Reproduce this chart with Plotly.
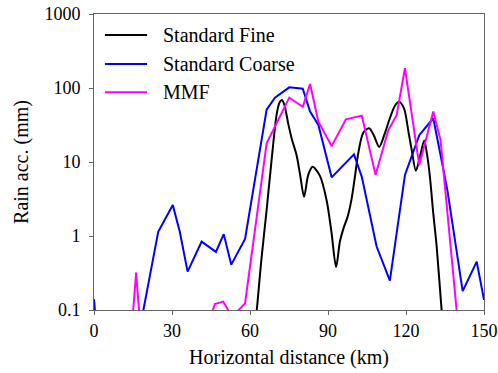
import plotly.graph_objects as go

# Standard Fine (smooth curve)
fine_x = [61.5, 62.6, 64.3, 66.4, 68.3, 70.3, 71.4, 72.3, 73.3, 74.7, 76.0, 77.9, 79.2, 80.8,
          82.4, 84.1, 86.9, 89.5, 91.4, 93.1, 94.6, 95.9, 97.5, 99.1, 100.4, 101.7, 103.6,
          105.8, 107.6, 109.7, 111.8, 113.8, 115.8, 117.4, 118.8, 119.6, 121.0, 122.2, 123.8,
          125.4, 127.0, 128.2, 129.2, 130.5, 131.8, 133.7, 134.5]
fine_y = [0.05, 0.1, 0.45, 2.25, 10.6, 45, 64, 69, 58, 33, 21, 12.4, 7, 3.4,
          6.7, 8.6, 6.5, 3.0, 1.08, 0.38, 0.85, 1.25, 1.8, 3.2, 6.5, 13.5, 25,
          28.5, 23, 16, 24, 39, 58, 65, 57, 48, 25, 14.5, 7.6,
          12, 19.5, 12, 6.3, 2.0, 0.72, 0.1, 0.05]

# Standard Coarse
coarse_x = [0, 2.7, 16.4, 24.7, 30.3, 33.0, 36.0, 41.4, 46.9, 49.9, 52.8, 58.1, 66.4, 69.6,
            75.1, 80.3, 83.1, 86.3, 91.4, 100.0, 103.0, 108.7, 113.8, 119.6, 125.1, 130.5,
            135.9, 141.8, 147.2, 150]
coarse_y = [0.14, 0.01, 0.033, 1.14, 2.63, 1.14, 0.33, 0.84, 0.61, 1.06, 0.41, 0.91, 51, 74,
            102, 98, 48, 31.6, 6.2, 12.7, 6.3, 0.72, 0.25, 6.7, 23, 39,
            4.2, 0.18, 0.45, 0.137]

# MMF
mmf_x = [13.5, 16.2, 18.9, 43.8, 46.5, 49.7, 52.4, 55.3, 58.1, 66.4, 75.1, 80.3, 83.1, 86.3,
         91.4, 96.9, 103.0, 108.3, 113.2, 116.4, 119.6, 125.1, 130.5, 133.3, 141.6]
mmf_y = [0.019, 0.32, 0.019, 0.065, 0.12, 0.13, 0.089, 0.097, 0.123, 17.9, 74, 55.8, 113, 35,
         16.4, 37.7, 42.3, 6.7, 27, 43, 185, 9.1, 48, 19.8, 0.016]

series_names = ["Standard Fine", "Standard Coarse", "MMF"]
series_colors = ["black", "#0000ff", "#ff00ff"]

y_tickvals = [0.1, 1, 10, 100, 1000]
y_ticktext = ["0.1", "1", "10", "100", "1000"]
x_tickvals = [0, 30, 60, 90, 120, 150]

FONT = "Liberation Serif, Times New Roman, Times, DejaVu Serif, serif"

fig = go.Figure()
fig.add_trace(go.Scatter(x=fine_x, y=fine_y, mode="lines", name=series_names[0],
                         line=dict(color=series_colors[0], width=2, shape="spline", smoothing=0.8)))
fig.add_trace(go.Scatter(x=coarse_x, y=coarse_y, mode="lines", name=series_names[1],
                         line=dict(color=series_colors[1], width=2)))
fig.add_trace(go.Scatter(x=mmf_x, y=mmf_y, mode="lines", name=series_names[2],
                         line=dict(color=series_colors[2], width=2)))

axis_common = dict(showline=True, linecolor="#666666", linewidth=1, mirror=True,
                   ticks="outside", ticklen=4, tickcolor="#666666", showgrid=False,
                   zeroline=False, automargin=False, ticklabeloverflow="allow",
                   tickfont=dict(family=FONT, size=18, color="black"))

fig.update_xaxes(range=[0, 150], tickvals=x_tickvals,
                 title=dict(text="Horizontal distance (km)",
                            font=dict(family=FONT, size=20, color="black"), standoff=10),
                 **axis_common)
fig.update_yaxes(type="log", range=[-1, 3], tickvals=y_tickvals, ticktext=y_ticktext,
                 ticklabelstandoff=5,
                 title=dict(text="Rain acc. (mm)",
                            font=dict(family=FONT, size=20, color="black"), standoff=10),
                 **axis_common)

# Legend drawn inside the plot area (line sample + label), top-left
leg_x0, leg_x1, leg_tx = 0.028, 0.136, 0.171
leg_rows = [0.929, 0.831, 0.736]
for name, color, yy in zip(series_names, series_colors, leg_rows):
    fig.add_shape(type="line", xref="paper", yref="paper", x0=leg_x0, x1=leg_x1, y0=yy, y1=yy,
                  line=dict(color=color, width=2))
    fig.add_annotation(xref="paper", yref="paper", x=leg_tx, y=yy, text=name, showarrow=False,
                       xanchor="left", yanchor="middle",
                       font=dict(family=FONT, size=20, color="black"))

fig.update_layout(
    width=498, height=373,
    margin=dict(l=94, r=14, t=14, b=63, autoexpand=False),
    paper_bgcolor="white", plot_bgcolor="white",
    font=dict(family=FONT, size=18, color="black"),
    showlegend=False,
)

fig.write_html("out.html", config={"displayModeBar": False},
               post_script="document.body.style.margin='0';document.body.style.overflow='hidden';")
